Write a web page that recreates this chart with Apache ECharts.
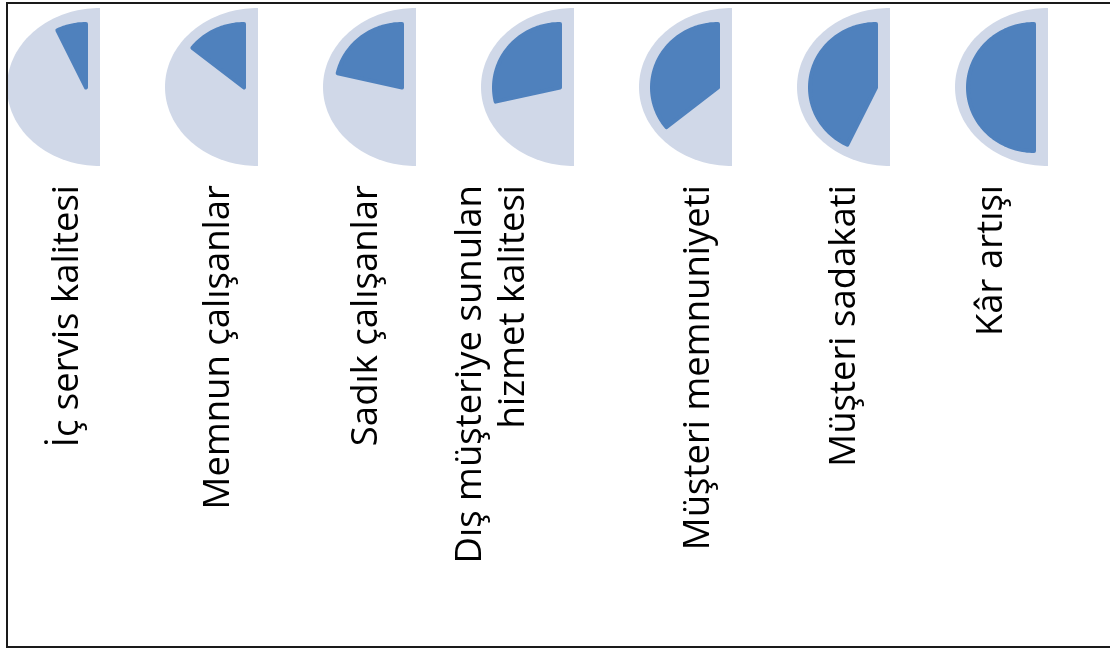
<!DOCTYPE html>
<html>
<head>
<meta charset="utf-8">
<script src="https://cdn.jsdelivr.net/npm/echarts@6/dist/echarts.min.js"></script>
<style>
  html, body { margin: 0; padding: 0; background: #ffffff; }
  #chart { width: 1110px; height: 649px; }
</style>
</head>
<body>
<div id="chart"></div>
<script>
// ---- data ----
const categories = [
  'İç servis kalitesi',
  'Memnun çalışanlar',
  'Sadık çalışanlar',
  'Dış müşteriye sunulan\nhizmet kalitesi',
  'Müşteri memnuniyeti',
  'Müşteri sadakati',
  'Kâr artışı'
];
const values = [1, 2, 3, 4, 5, 6, 7];
const maxValue = 7;

// ---- layout / style (not data) ----
const labelShift = [-32, -39, -49, -82, -33, -45, -56];
const LIGHT = '#D0D8E8';
const DARK = '#4F81BD';

function ellipseSector(cx, cy, rx, ry, angle) {
  const pts = [[cx, cy]];
  const n = Math.max(2, Math.ceil(angle / Math.PI * 90));
  for (let k = 0; k <= n; k++) {
    const t = angle * k / n;
    pts.push([cx - rx * Math.sin(t), cy - ry * Math.cos(t)]);
  }
  return pts;
}

function renderItem(params, api) {
  const idx = api.value(0);
  const v = api.value(1);
  const c = api.coord([idx, 0]);
  const unitY = api.size([0, 1])[1];
  const light = ellipseSector(c[0], c[1], 93, unitY, Math.PI);
  const dark = ellipseSector(c[0] - 14, c[1] + 0.5, 66, 63.5, v / maxValue * Math.PI);
  return {
    type: 'group',
    children: [
      { type: 'polygon', shape: { points: light }, style: { fill: LIGHT } },
      { type: 'polygon', shape: { points: dark },
        style: { fill: DARK, stroke: DARK, lineWidth: 4, lineJoin: 'round' } },
      { type: 'text', x: c[0] + labelShift[idx], y: c[1] + 98, rotation: Math.PI / 2,
        style: { text: categories[idx], fontFamily: 'Open Sans', fontSize: 36.5,
                 fill: '#000000', align: 'right', verticalAlign: 'middle', lineHeight: 43 } }
    ]
  };
}

const chart = echarts.init(document.getElementById('chart'));
chart.setOption({
  animation: false,
  backgroundColor: '#ffffff',
  graphic: [{
    type: 'rect', z: 100,
    shape: { x: 7, y: 3, width: 1120, height: 644 },
    style: { fill: 'none', stroke: '#1a1a1a', lineWidth: 2 }
  }],
  grid: { left: 100, top: 8, width: 948, height: 158 },
  xAxis: { type: 'category', data: categories, boundaryGap: false, show: false },
  yAxis: { type: 'value', min: -1, max: 1, show: false },
  series: [{
    type: 'custom',
    renderItem: renderItem,
    clip: false,
    data: values.map((v, i) => [i, v])
  }]
});
</script>
</body>
</html>
